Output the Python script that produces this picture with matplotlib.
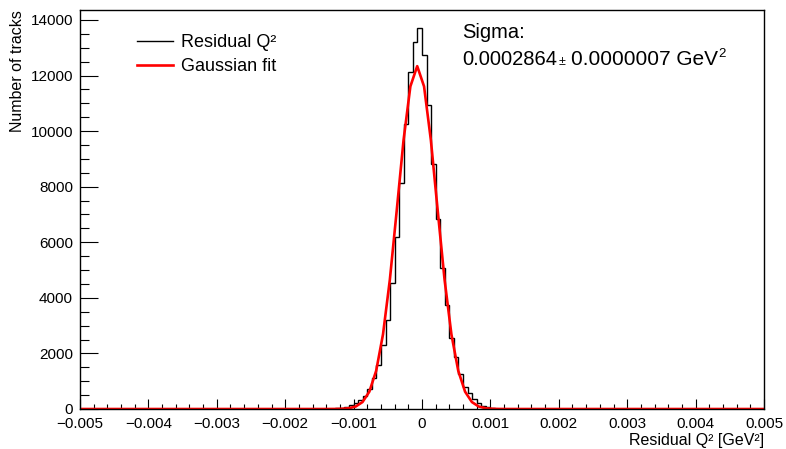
import numpy as np
import matplotlib
matplotlib.use("Agg")
import matplotlib.pyplot as plt
from matplotlib.ticker import MultipleLocator, AutoMinorLocator

plt.rcParams['font.family'] = ['Liberation Sans', 'DejaVu Sans']

# histogram: 150 bins on [-0.005, 0.005], non-empty bins from index -22 to 18 (relative to 0)
n_bins = 150
x_lo, x_hi = -0.005, 0.005
first_bin = -22
bin_counts = [3, 6, 12, 25, 40, 80, 130, 210, 330, 470, 710, 1115,
              1580, 2300, 3220, 4545, 6200, 8140, 10250, 12140, 13220, 13700,
              12730, 10940, 8830, 6840, 5080, 3740, 2540, 1860, 1260, 800,
              565, 350, 205, 108, 60, 30, 15, 8, 4]

# gaussian fit parameters
fit_const = 12340
fit_mean = -0.00007
fit_sigma = 0.0002864
fit_sigma_err = 0.0000007

edges = np.linspace(x_lo, x_hi, n_bins + 1)
counts = np.zeros(n_bins)
start = n_bins // 2 + first_bin
counts[start:start + len(bin_counts)] = bin_counts

# fit drawn as a polyline like ROOT's TF1 (100 points)
xs = fit_mean + 0.0001 * np.arange(-50, 52)
ys = fit_const * np.exp(-0.5 * ((xs - fit_mean) / fit_sigma) ** 2)

W, H = 786, 449
fig = plt.figure(figsize=(W / 100, H / 100), dpi=100)
ax = fig.add_axes([80 / W, 40 / H, 684 / W, 399 / H])

ax.stairs(counts, edges, color='black', linewidth=1.0, label='Residual Q²')
ax.plot(xs, ys, color='red', linewidth=1.9, label='Gaussian fit')

ax.set_xlim(x_lo, x_hi)
ax.set_ylim(0, 14000 * 399 / 389)

ax.xaxis.set_major_locator(MultipleLocator(0.001))
ax.xaxis.set_minor_locator(AutoMinorLocator(5))
ax.yaxis.set_major_locator(MultipleLocator(2000))
ax.yaxis.set_minor_locator(AutoMinorLocator(4))
ax.xaxis.set_major_formatter(plt.FuncFormatter(
    lambda v, p: '0' if abs(v) < 1e-9 else ('%.3f' % v).replace('-', '\u2212')))

ax.tick_params(axis='x', which='major', direction='in', length=7, width=0.8, labelsize=11, pad=6)
ax.tick_params(axis='x', which='minor', direction='in', length=3.5, width=0.8)
ax.tick_params(axis='y', which='major', direction='in', length=13, width=0.8, labelsize=11, pad=5)
ax.tick_params(axis='y', which='minor', direction='in', length=6.5, width=0.8)

for s in ax.spines.values():
    s.set_linewidth(1.0)

ax.set_ylabel('Number of tracks', fontsize=11.5, loc='top')
ax.yaxis.set_label_coords(-0.08, 1.0)
ax.set_xlabel('Residual Q² [GeV²]', fontsize=11.5, loc='right')
ax.xaxis.set_label_coords(1.0, -0.06)
ax.xaxis.label.set_va('top')

ax.legend(loc='upper left', bbox_to_anchor=((137 - 80) / 684, (409 - 34) / 399),
          frameon=False, fontsize=13, borderpad=0, borderaxespad=0,
          handlelength=2.0, handletextpad=0.45, labelspacing=0.4)

fig.text(462 / W, 1 - 38 / H, 'Sigma:', fontsize=14.5, va='baseline')
fig.text(462 / W, 1 - 65 / H, '%.7f' % fit_sigma, fontsize=14.5, va='baseline')
fig.text(559 / W, 1 - 65 / H, '\u00b1', fontsize=9, va='baseline')
fig.text(571 / W, 1 - 65 / H, '%.7f GeV' % fit_sigma_err, fontsize=15, va='baseline')
fig.text(718 / W, 1 - 57 / H, '2', fontsize=9.5, va='baseline')

fig.savefig('out.png', dpi=100)
